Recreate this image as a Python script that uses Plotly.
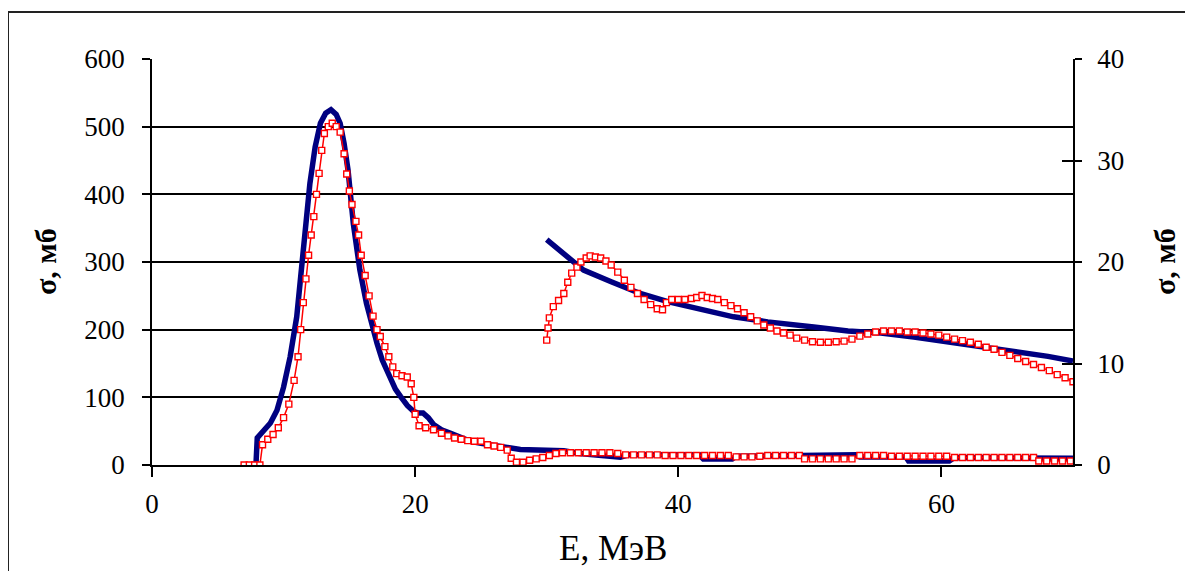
import plotly.graph_objects as go

# ---- data ----
blue1_x = [7.0, 7.9, 8.0, 8.5, 9.0, 9.5, 10.0, 10.5, 11.0, 11.3, 11.6, 12.0, 12.4, 12.8, 13.2, 13.6,
           14.0, 14.3, 14.6, 14.9, 15.3, 15.8, 16.3, 16.7, 17.1, 17.5, 18.1, 18.5, 18.9, 19.4, 19.9,
           20.2, 20.6, 21.0, 21.4, 22.0, 22.7, 23.5, 24.2, 25.0, 26.0, 27.0, 28.0, 29.0, 30.0, 31.3,
           32.5, 34.0, 34.9, 35.6, 36.2, 41.6, 41.9, 44.1, 44.4, 49.3, 49.5, 53.5, 53.8, 57.3, 57.5,
           60.6, 61.0, 67.4, 67.5, 70.0]
blue1_y = [0, 0, 40, 50, 62, 81, 115, 160, 219, 278, 347, 416, 470, 505, 520, 525,
           518, 505, 475, 436, 357, 288, 239, 205, 180, 155, 130, 112, 101, 88, 79,
           77, 77, 70, 60, 52, 47, 40, 35, 32, 28, 26, 23, 22, 21, 21,
           17, 14, 11.5, 11.5, 15, 15, 9, 9, 13, 14, 15, 15, 12, 12, 6,
           6, 11, 11, 10, 10]

red1_x = [7.0, 7.4, 7.8, 8.2, 8.4, 8.8, 9.2, 9.6, 10.0, 10.4, 10.8, 11.1, 11.3, 11.5, 11.7, 11.9,
          12.1, 12.3, 12.5, 12.7, 12.9, 13.1, 13.4, 13.7, 14.0, 14.3, 14.6, 14.8, 15.0, 15.2, 15.5,
          15.7, 15.9, 16.2, 16.5, 16.8, 17.1, 17.35, 17.7, 18.0, 18.3, 18.6, 19.0, 19.4, 19.7, 19.9,
          20.0, 20.3, 20.8, 21.4, 22.0, 22.5, 23.0, 23.5, 24.0, 24.5, 25.0, 25.5, 26.0, 26.5, 27.0,
          27.3, 27.7, 28.2, 28.7, 29.2, 29.7, 30.2, 30.7, 31.2, 31.8, 32.4, 33.0, 33.6, 34.2, 34.8,
          35.4, 36.0, 36.6, 37.2, 37.8, 38.4, 39.0, 39.6, 40.2, 40.8, 41.4, 42.0, 42.6, 43.2, 43.8,
          44.4, 45.0, 45.6, 46.2, 46.8, 47.4, 48.0, 48.6, 49.2, 49.6, 50.2, 50.8, 51.4, 52.0, 52.6,
          53.2, 53.8, 54.4, 55.0, 55.6, 56.2, 56.8, 57.4, 58.0, 58.6, 59.2, 59.8, 60.4, 61.0, 61.6,
          62.2, 62.8, 63.4, 64.0, 64.6, 65.2, 65.8, 66.4, 67.0, 67.4, 68.0, 68.6, 69.2, 69.8]
red1_y = [0, 0, 0, 0, 30, 38, 45, 55, 70, 90, 125, 160, 200, 240, 275, 310,
          340, 367, 400, 431, 465, 490, 500, 505, 500, 492, 460, 430, 405, 385, 360,
          340, 310, 280, 250, 220, 200, 190, 175, 160, 145, 135, 132, 130, 120, 100,
          75, 58, 55, 52, 47, 43, 40, 38, 36, 35, 35, 30, 28, 26, 22,
          10, 4, 4, 7, 9, 11, 14, 17, 18, 18, 18, 18, 18, 18, 18,
          17, 15, 15, 15, 15, 15, 14, 14, 14, 14, 14, 14, 14, 14, 14,
          12, 12, 12, 13, 14, 14, 14, 14, 14, 9, 9, 9, 9, 9, 9,
          9, 14, 14, 14, 14, 13, 13, 13, 13, 13, 13, 13, 13, 11, 11,
          11, 11, 11, 11, 11, 11, 11, 11, 11, 6, 6, 6, 6, 6]

blue2_x = [30.0, 31.6, 32.8, 34.9, 37.1, 39.2, 41.7, 44.2, 46.8, 49.1, 50.3, 52.9, 55.4, 57.9,
           60.5, 63.0, 65.5, 68.1, 70.0]
blue2_y = [22.2, 20.5, 19.2, 18.06, 16.9, 16.1, 15.3, 14.6, 14.1, 13.7, 13.6, 13.2, 13.0, 12.6,
           12.15, 11.65, 11.16, 10.7, 10.25]

red2_x = [30.0, 30.1, 30.2, 30.5, 30.9, 31.3, 31.6, 31.9, 32.3, 32.6, 33.0, 33.3, 33.7, 34.1,
          34.5, 34.9, 35.4, 35.9, 36.4, 36.9, 37.4, 37.9, 38.4, 38.8, 39.1, 39.5, 40.0, 40.5,
          41.0, 41.4, 41.8, 42.2, 42.6, 43.0, 43.5, 44.0, 44.5, 45.0, 45.5, 46.0, 46.5, 47.0,
          47.5, 48.0, 48.5, 49.0, 49.6, 50.2, 50.8, 51.4, 52.0, 52.6, 53.2, 53.8, 54.4, 55.0,
          55.6, 56.2, 56.8, 57.4, 58.0, 58.6, 59.2, 59.8, 60.4, 61.0, 61.6, 62.2, 62.8, 63.4,
          64.0, 64.6, 65.2, 65.8, 66.4, 67.0, 67.6, 68.2, 68.8, 69.4, 70.0]
red2_y = [12.3, 13.5, 14.5, 15.6, 16.2, 16.9, 18.0, 18.9, 19.5, 20.0, 20.4, 20.6, 20.5, 20.4,
          20.1, 19.7, 19.0, 18.2, 17.5, 16.9, 16.3, 15.8, 15.4, 15.3, 16.0, 16.3, 16.3, 16.3,
          16.4, 16.5, 16.7, 16.5, 16.4, 16.3, 16.0, 15.7, 15.4, 15.0, 14.6, 14.2, 13.8, 13.5,
          13.2, 13.0, 12.8, 12.5, 12.3, 12.15, 12.1, 12.1, 12.15, 12.2, 12.4, 12.7, 12.9, 13.1,
          13.2, 13.2, 13.2, 13.1, 13.1, 13.0, 12.9, 12.8, 12.6, 12.4, 12.25, 12.1, 11.9, 11.6,
          11.4, 11.1, 10.8, 10.5, 10.2, 9.9, 9.6, 9.3, 8.9, 8.6, 8.2]

x_ticks = [0, 20, 40, 60]
left_ticks = [0, 100, 200, 300, 400, 500, 600]
right_ticks = [0, 10, 20, 30, 40]

x_title = "E, МэВ"
y_title = "σ, мб"

# ---- styles ----
NAVY = "#000080"
RED = "#FF0000"
SERIF = "Liberation Serif, Times New Roman, serif"

red_marker = dict(symbol="square", size=6, color="white", line=dict(color=RED, width=1.4))

fig = go.Figure()
fig.add_trace(go.Scatter(x=blue1_x, y=blue1_y, mode="lines", line=dict(color=NAVY, width=5.5),
                         yaxis="y", showlegend=False))
fig.add_trace(go.Scatter(x=red1_x, y=red1_y, mode="lines+markers", line=dict(color=RED, width=1.5),
                         marker=red_marker, yaxis="y", showlegend=False))
fig.add_trace(go.Scatter(x=blue2_x, y=blue2_y, mode="lines", line=dict(color=NAVY, width=5.5),
                         yaxis="y2", showlegend=False))
fig.add_trace(go.Scatter(x=red2_x, y=red2_y, mode="lines+markers", line=dict(color=RED, width=1.5),
                         marker=red_marker, yaxis="y2", showlegend=False))
fig.add_trace(go.Scatter(x=[None], y=[None], yaxis="y3", showlegend=False, hoverinfo="skip"))

# page body has an 8px margin: work in figure coordinates
OFF = 8
W, H = 1193 - 2 * OFF, 571 - OFF
L, R, T, B = 152 - OFF, 1073 - OFF, 59 - OFF, 465 - OFF
pw, ph = R - L, B - T


def px(x):
    return (x - OFF - L) / pw


def py(y):
    return (B - (y - OFF)) / ph


TICKFONT = dict(family=SERIF, size=27, color="black")

fig.update_layout(
    width=W, height=H, autosize=False,
    margin=dict(l=L, r=W - R, t=T, b=H - B, pad=0),
    paper_bgcolor="white", plot_bgcolor="white",
    font=dict(family=SERIF, size=27, color="black"),
    xaxis=dict(range=[0, 70], tickvals=x_ticks, ticktext=[str(v) for v in x_ticks],
               showgrid=False, zeroline=False, showline=True, linecolor="black", linewidth=1.6,
               ticks="outside", ticklen=10, tickwidth=1.6, tickcolor="black",
               ticklabelstandoff=4, tickfont=TICKFONT),
    yaxis=dict(range=[0, 600], tickvals=left_ticks, ticktext=[str(v) for v in left_ticks],
               showgrid=True, gridcolor="black", gridwidth=1.6, zeroline=False,
               showline=True, linecolor="black", linewidth=1.6,
               ticks="outside", ticklen=8, tickwidth=1.6, tickcolor="black",
               ticklabelstandoff=12, tickfont=TICKFONT),
    yaxis2=dict(range=[0, 40], tickvals=right_ticks, ticktext=[str(v) for v in right_ticks],
                overlaying="y", side="right", showgrid=False, zeroline=False,
                showline=True, linecolor="black", linewidth=1.6,
                ticks="outside", ticklen=7, tickwidth=1.6, tickcolor="black",
                ticklabelstandoff=10, tickfont=TICKFONT),
    yaxis3=dict(range=[0, 40], tickvals=right_ticks, overlaying="y", side="right",
                showgrid=False, zeroline=False, showline=False, showticklabels=False,
                ticks="inside", ticklen=11, tickwidth=1.6, tickcolor="black"),
)

fig.add_annotation(text=x_title, xref="paper", yref="paper", x=0.5, y=py(548),
                   xanchor="center", yanchor="middle", showarrow=False,
                   font=dict(family=SERIF, size=35, color="black"))
fig.add_annotation(text="<b>" + y_title + "</b>", xref="paper", yref="paper", x=px(45), y=0.5,
                   xanchor="center", yanchor="middle", showarrow=False, textangle=-90,
                   font=dict(family=SERIF, size=30, color="black"))
fig.add_annotation(text="<b>" + y_title + "</b>", xref="paper", yref="paper", x=px(1164), y=0.5,
                   xanchor="center", yanchor="middle", showarrow=False, textangle=-90,
                   font=dict(family=SERIF, size=30, color="black"))

fig.add_shape(type="rect", xref="paper", yref="paper",
              x0=px(8), x1=px(1200), y0=py(590), y1=py(12),
              line=dict(color="#222222", width=2), fillcolor="rgba(0,0,0,0)", layer="below")

fig.write_html("out.html")
